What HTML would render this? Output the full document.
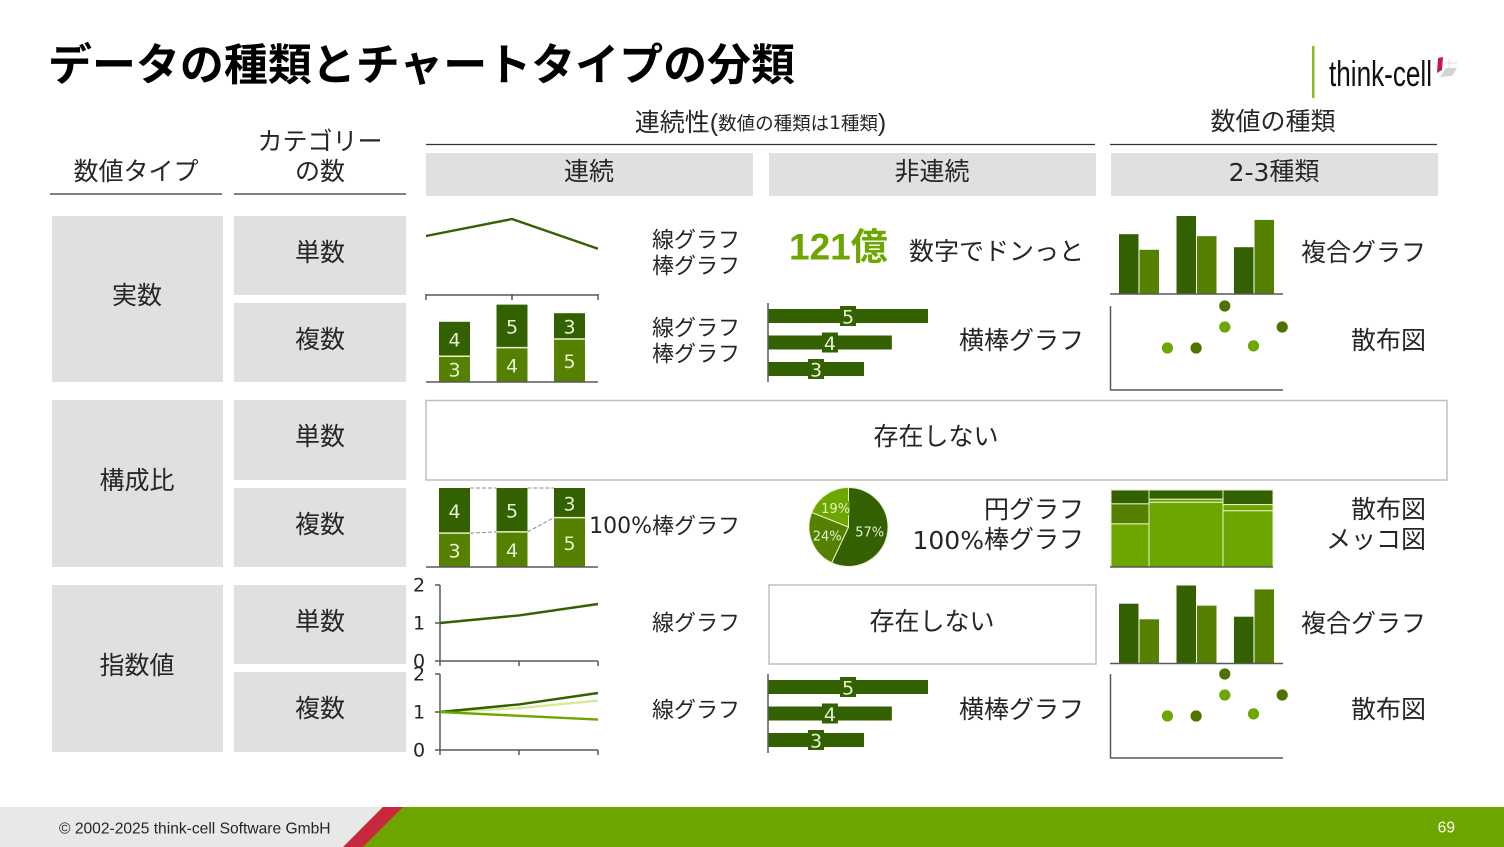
<!DOCTYPE html>
<html lang="ja">
<head>
<meta charset="utf-8">
<title>データの種類とチャートタイプの分類</title>
<style>
html,body{margin:0;padding:0;background:#fff;}
body{width:1504px;height:847px;overflow:hidden;}
svg{display:block;}
text{font-family:"Liberation Sans","Noto Sans CJK JP",sans-serif;fill:#262626;}
.lbl{font-size:25px;dominant-baseline:central;transform:translateY(1px);}
.small{font-size:22px;}
.mid{text-anchor:middle;}
.end{text-anchor:end;}
.lat{font-family:"DejaVu Sans",sans-serif;}
.val{font-family:"DejaVu Sans",sans-serif;fill:#e6f2d0;text-anchor:middle;dominant-baseline:central;transform:translateY(1.5px);}
.tick{font-family:"DejaVu Sans",sans-serif;font-size:19px;fill:#262626;text-anchor:middle;dominant-baseline:central;transform:translateY(1px);}
</style>
</head>
<body>
<svg id="slide" xmlns="http://www.w3.org/2000/svg" width="1504" height="847" viewBox="0 0 1504 847">
  <rect x="0" y="0" width="1504" height="847" fill="#fff"/>
  <text x="48" y="80" font-size="44" font-weight="700" style="fill:#000" textLength="747" lengthAdjust="spacingAndGlyphs">データの種類とチャートタイプの分類</text>

  <g>
    <rect x="1312" y="46" width="2.5" height="52" fill="#8cb820"/>
    <text x="1329" y="86" font-size="36" style="fill:#111" textLength="103" lengthAdjust="spacingAndGlyphs">think-cell</text>
    <polygon points="1438,58 1443,57 1442,70 1437,73" fill="#c2184f"/>
    <polygon points="1446,68 1457,68 1452,76 1440,77" fill="#d4d4d4"/>
    <path d="M1449 59V68M1445 63H1457" stroke="#dcdcdc" stroke-width="1" fill="none"/>
  </g>

  <g>
    <text class="lbl mid" x="136" y="171">数値タイプ</text>
    <line x1="50" y1="194" x2="222" y2="194" stroke="#333" stroke-width="1.2"/>
    <text class="lbl mid" x="320" y="141">カテゴリー</text>
    <text class="lbl mid" x="320" y="171">の数</text>
    <line x1="234" y1="194" x2="406" y2="194" stroke="#333" stroke-width="1.2"/>
    <text class="lbl mid" x="760.500" y="122">連続性(<tspan font-size="18.500">数値の種類は<tspan class="lat">1</tspan>種類</tspan>)</text>
    <line x1="426" y1="144.500" x2="1095" y2="144.500" stroke="#333" stroke-width="1.2"/>
    <text class="lbl mid" x="1273" y="121">数値の種類</text>
    <line x1="1110" y1="144.500" x2="1437" y2="144.500" stroke="#333" stroke-width="1.2"/>

    <rect x="426" y="153" width="327" height="43" fill="#e0e0e0"/>
    <text class="lbl mid" x="589" y="171">連続</text>
    <rect x="769" y="153" width="327" height="43" fill="#e0e0e0"/>
    <text class="lbl mid" x="932" y="171">非連続</text>
    <rect x="1111" y="153" width="327" height="43" fill="#e0e0e0"/>
    <text class="lbl mid" x="1274" y="171"><tspan class="lat">2-3</tspan>種類</text>
  </g>

  <g>
    <rect x="52" y="216" width="171" height="166" fill="#e0e0e0"/>
    <text class="lbl mid" x="137" y="295">実数</text>
    <rect x="234" y="216" width="172" height="79" fill="#e0e0e0"/>
    <text class="lbl mid" x="320" y="252">単数</text>
    <rect x="234" y="303" width="172" height="79" fill="#e0e0e0"/>
    <text class="lbl mid" x="320" y="339">複数</text>

    <rect x="52" y="400" width="171" height="167" fill="#e0e0e0"/>
    <text class="lbl mid" x="137" y="480">構成比</text>
    <rect x="234" y="400" width="172" height="80" fill="#e0e0e0"/>
    <text class="lbl mid" x="320" y="436">単数</text>
    <rect x="234" y="488" width="172" height="79" fill="#e0e0e0"/>
    <text class="lbl mid" x="320" y="524">複数</text>

    <rect x="52" y="585" width="171" height="167" fill="#e0e0e0"/>
    <text class="lbl mid" x="137" y="665">指数値</text>
    <rect x="234" y="585" width="172" height="79" fill="#e0e0e0"/>
    <text class="lbl mid" x="320" y="621">単数</text>
    <rect x="234" y="672" width="172" height="80" fill="#e0e0e0"/>
    <text class="lbl mid" x="320" y="708">複数</text>
  </g>

  <g>
    <text class="lbl small end" x="740" y="239">線グラフ</text>
    <text class="lbl small end" x="740" y="265">棒グラフ</text>
    <text class="lbl small end" x="740" y="327">線グラフ</text>
    <text class="lbl small end" x="740" y="353">棒グラフ</text>
    <text x="789" y="247" font-size="37" font-weight="700" style="fill:#6ea600;dominant-baseline:central">121億</text>
    <text class="lbl end" x="1084" y="251">数字でドンっと</text>
    <text class="lbl end" x="1084" y="340">横棒グラフ</text>
    <text class="lbl end" x="1426" y="252">複合グラフ</text>
    <text class="lbl end" x="1426" y="340">散布図</text>

    <rect x="426" y="400.500" width="1021" height="79.500" fill="#fff" stroke="#bfbfbf" stroke-width="1.5"/>
    <text class="lbl mid" x="936" y="436">存在しない</text>

    <text class="lbl small end" x="740" y="525"><tspan class="lat">100%</tspan>棒グラフ</text>
    <text class="lbl end" x="1084" y="509">円グラフ</text>
    <text class="lbl end" x="1084" y="539"><tspan class="lat">100%</tspan>棒グラフ</text>
    <text class="lbl end" x="1426" y="509">散布図</text>
    <text class="lbl end" x="1426" y="539">メッコ図</text>

    <text class="lbl small end" x="740" y="622">線グラフ</text>
    <rect x="769" y="585" width="327" height="79" fill="#fff" stroke="#bfbfbf" stroke-width="1.5"/>
    <text class="lbl mid" x="932" y="621">存在しない</text>
    <text class="lbl end" x="1426" y="623">複合グラフ</text>
    <text class="lbl small end" x="740" y="709">線グラフ</text>
    <text class="lbl end" x="1084" y="709">横棒グラフ</text>
    <text class="lbl end" x="1426" y="709">散布図</text>
  </g>

  <g id="charts"></g>

  <g>
    <rect x="0" y="807" width="400" height="40" fill="#e8e8e8"/>
    <rect x="360" y="807" width="1144" height="40" fill="#6ea600"/>
    <polygon points="340,807 383,807 343,847 340,847" fill="#e8e8e8"/>
    <polygon points="383,807 403,807 363,847 343,847" fill="#c8283c"/>
    <text x="59" y="833.500" font-size="15.600" style="fill:#262626">© 2002-2025 think-cell Software GmbH</text>
    <text x="1455" y="832.500" font-size="15.600" text-anchor="end" style="fill:#fff">69</text>
  </g>
</svg>
<script>
/* Single line chart (actual / single) */
var singleLineValues = [3, 4, 2.25];

/* Stacked bars (actual / multiple, composition / multiple) */
var stackLower = [3, 4, 5];
var stackUpper = [4, 5, 3];

/* Horizontal bars */
var hbarValues = [5, 3.87, 3];
var hbarLabels = ['5', '4', '3'];

/* Clustered column chart */
var comboSeriesA = [4.6, 6, 3.6];
var comboSeriesB = [3.4, 4.45, 5.7];

/* Scatter chart */
var scatterDarkX = [4, 3, 6];
var scatterDarkY = [4, 2, 3];
var scatterLightX = [2, 4, 5];
var scatterLightY = [2, 3, 2.1];

/* Pie chart */
var pieValues = [57, 24, 19];
var pieLabels = ['57%', '24%', '19%'];

/* Mekko chart */
var mekkoWidths = [38, 74, 50];
var mekkoTop = [18, 12, 19];
var mekkoMid = [26, 4, 8];
var mekkoBottom = [56, 84, 73];

/* Index line charts */
var indexTicks = ['0', '1', '2'];
var indexSingle = [1, 1.2, 1.5];
var indexDark = [1, 1.2, 1.5];
var indexPale = [1, 1.1, 1.3];
var indexMid = [1, 0.9, 0.8];

var DARK = '#336000', MID = '#558000', LIGHT = '#6ea600', PALE = '#d6eb98', GAP = '#e6f2d0', AXIS = '#595959';
var NS = 'http://www.w3.org/2000/svg';
var root = document.getElementById('charts');

function mk(parent, tag, attrs, txt) {
  var el = document.createElementNS(NS, tag);
  for (var k in attrs) el.setAttribute(k, attrs[k]);
  if (txt !== undefined) el.textContent = txt;
  parent.appendChild(el);
  return el;
}
function group(name) {
  var g = mk(root, 'g', {});
  
  
  return g;
}
function axisLine(g, x1, y1, x2, y2) {
  var el = mk(g, 'line', {x1: x1, y1: y1, x2: x2, y2: y2, stroke: AXIS, 'stroke-width': 1.5});
  
  
}
function seriesLine(g, xs, ys, color, name) {
  var pts = xs.map(function (x, i) { return x + ',' + ys[i]; }).join(' ');
  var el = mk(g, 'polyline', {points: pts, fill: 'none', stroke: color, 'stroke-width': 2.4, 'stroke-linejoin': 'round'});
  
  
}

/* ---- single line ---- */
(function () {
  var g = group('single-line-chart');
  var xs = singleLineValues.map(function (v, i) { return 426 + 86 * i; });
  var ys = singleLineValues.map(function (v) { return 287 - 17 * v; });
  seriesLine(g, xs, ys, DARK, 'single-line-series');
})();

/* ---- stacked bars ---- */
var bandX = function (i) { return 439 + 57.5 * i; };
function drawStack(name, baseY, heightOf) {
  var g = group(name);
  stackLower.forEach(function (low, i) {
    var up = stackUpper[i];
    var h = heightOf(low, up);
    var x = bandX(i), yMid = baseY - h.low, yTop = yMid - h.up;
    var r1 = mk(g, 'rect', {x: x, y: yMid, width: 31, height: h.low, fill: MID});
    
    
    var r2 = mk(g, 'rect', {x: x, y: yTop, width: 31, height: h.up, fill: DARK});
    
    
    var sep = mk(g, 'line', {x1: x, x2: x + 31, y1: yMid, y2: yMid, stroke: GAP, 'stroke-width': 1.5});
    
    
    var t1 = mk(g, 'text', {x: x + 15.5, y: yMid + h.low / 2, 'class': 'val', 'font-size': 19}, String(low));
    
    
    var t2 = mk(g, 'text', {x: x + 15.5, y: yTop + h.up / 2, 'class': 'val', 'font-size': 19}, String(up));
    
    
  });
  return g;
}
(function () {
  var unit = 8.6;
  var g = drawStack('stacked-bar-chart', 382, function (l, u) { return {low: l * unit, up: u * unit}; });
  axisLine(g, 426, 382, 598, 382);
  axisLine(g, 426, 295, 598, 295);
  [426, 512, 598].forEach(function (x) { axisLine(g, x, 294, x, 300); });
})();
(function () {
  var total = 79, base = 567;
  var g = drawStack('percent-bar-chart', base, function (l, u) { return {low: total * l / (l + u), up: total * u / (l + u)}; });
  axisLine(g, 426, base, 598, base);
  for (var i = 0; i < stackLower.length - 1; i++) {
    var m1 = base - total * stackLower[i] / (stackLower[i] + stackUpper[i]);
    var m2 = base - total * stackLower[i + 1] / (stackLower[i + 1] + stackUpper[i + 1]);
    var c1 = mk(g, 'line', {x1: bandX(i) + 31, y1: m1, x2: bandX(i + 1), y2: m2, stroke: '#8c8c8c', 'stroke-width': 1, 'stroke-dasharray': '4 2'});
    
    
    var c2 = mk(g, 'line', {x1: bandX(i) + 31, y1: base - total, x2: bandX(i + 1), y2: base - total, stroke: '#8c8c8c', 'stroke-width': 1, 'stroke-dasharray': '4 2'});
    
    
  }
})();

/* ---- horizontal bars ---- */
function drawHbars(name, topY) {
  var g = group(name);
  var unit = 32, x0 = 768;
  hbarValues.forEach(function (v, i) {
    var y = topY + 6 + 26.500 * i;
    var w = v * unit;
    var r = mk(g, 'rect', {x: x0, y: y, width: w, height: 14, fill: DARK});
    
    
    var b = mk(g, 'rect', {x: x0 + w / 2 - 8, y: y - 3, width: 16, height: 20, fill: DARK});
    
    
    var t = mk(g, 'text', {x: x0 + w / 2, y: y + 7, 'class': 'val', 'font-size': 19}, hbarLabels[i]);
    
    
  });
  axisLine(g, x0, topY, x0, topY + 79);
}
drawHbars('horizontal-bar-chart-top', 303);
drawHbars('horizontal-bar-chart-bottom', 674);

/* ---- clustered columns ---- */
function drawCombo(name, baseY) {
  var g = group(name);
  var unit = 13;
  comboSeriesA.forEach(function (v, i) {
    var x = 1119 + 57.5 * i;
    var ha = v * unit, hb = comboSeriesB[i] * unit;
    var a = mk(g, 'rect', {x: x, y: baseY - ha, width: 19.5, height: ha, fill: DARK});
    
    
    var b = mk(g, 'rect', {x: x + 20.5, y: baseY - hb, width: 19.5, height: hb, fill: MID});
    
    
  });
  axisLine(g, 1110, baseY, 1283, baseY);
}
drawCombo('combo-chart-top', 294);
drawCombo('combo-chart-bottom', 663.500);

/* ---- scatter ---- */
function drawScatter(name, baseY, topY) {
  var g = group(name);
  var sx = function (v) { return 1110 + 28.7 * v; };
  var sy = function (v) { return baseY - 21 * v; };
  axisLine(g, 1110.500, topY, 1110.500, baseY);
  axisLine(g, 1110, baseY, 1283, baseY);
  scatterDarkX.forEach(function (v, i) {
    var c = mk(g, 'circle', {cx: sx(v), cy: sy(scatterDarkY[i]), r: 5.6, fill: '#4d7300'});
    
    
  });
  scatterLightX.forEach(function (v, i) {
    var c = mk(g, 'circle', {cx: sx(v), cy: sy(scatterLightY[i]), r: 5.6, fill: LIGHT});
    
    
  });
}
drawScatter('scatter-chart-top', 390, 306);
drawScatter('scatter-chart-bottom', 758, 674);

/* ---- pie ---- */
(function () {
  var g = group('pie-chart');
  var cx = 848.5, cy = 527, R = 39.5;
  var colors = [DARK, MID, LIGHT];
  var total = pieValues.reduce(function (a, b) { return a + b; }, 0);
  var ang = 0;
  pieValues.forEach(function (v, i) {
    var a0 = ang, a1 = ang + v / total * Math.PI * 2;
    ang = a1;
    var x0 = cx + R * Math.sin(a0), y0 = cy - R * Math.cos(a0);
    var x1 = cx + R * Math.sin(a1), y1 = cy - R * Math.cos(a1);
    var large = a1 - a0 > Math.PI ? 1 : 0;
    var p = mk(g, 'path', {d: 'M' + cx + ' ' + cy + 'L' + x0 + ' ' + y0 + 'A' + R + ' ' + R + ' 0 ' + large + ' 1 ' + x1 + ' ' + y1 + 'Z', fill: colors[i], stroke: GAP, 'stroke-width': 1});
    
    
  });
  ang = 0;
  pieValues.forEach(function (v, i) {
    var frac = v / total * Math.PI * 2;
    var mid = ang + frac / 2;
    ang += frac;
    var d = [0.55, 0.58, 0.58][i] * R;
    var lx = cx + d * Math.sin(mid), ly = cy - d * Math.cos(mid);
    var b = mk(g, 'rect', {x: lx - 14, y: ly - 7, width: 28, height: 14, fill: colors[i]});
    
    
    var t = mk(g, 'text', {x: lx, y: ly, 'class': 'val', 'font-size': 13}, pieLabels[i]);
    
    
  });
})();

/* ---- mekko ---- */
(function () {
  var g = group('mekko-chart');
  var x = 1111, top = 490, H = 77;
  mekkoWidths.forEach(function (w, i) {
    var rows = [[mekkoTop[i], DARK], [mekkoMid[i], i === 0 ? MID : LIGHT], [mekkoBottom[i], LIGHT]];
    var y = top;
    rows.forEach(function (row) {
      var h = row[0] / 100 * H;
      var r = mk(g, 'rect', {x: x, y: y, width: w, height: h, fill: row[1], stroke: GAP, 'stroke-width': 1});
      
      
      y += h;
    });
    x += w;
  });
  axisLine(g, 1110, top + H, 1273, top + H);
})();

/* ---- index lines ---- */
function drawIndexChart(name, topY, unit, series) {
  var g = group(name);
  var baseY = topY + unit * 2;
  var sx = function (i) { return 440 + 79 * i; };
  var sy = function (v) { return baseY - unit * v; };
  axisLine(g, 440, topY, 440, baseY);
  axisLine(g, 440, baseY, 598, baseY);
  indexTicks.forEach(function (label) {
    var v = Number(label);
    axisLine(g, 435, sy(v), 440, sy(v));
    var t = mk(g, 'text', {x: 419, y: sy(v) - 0.5, 'class': 'tick'}, label);
    
    
  });
  [0, 1, 2].forEach(function (i) { axisLine(g, sx(i), baseY, sx(i), baseY + 5); });
  series.forEach(function (s) {
    seriesLine(g, s.values.map(function (v, i) { return sx(i); }), s.values.map(sy), s.color, s.name);
  });
}
drawIndexChart('index-line-chart-single', 585, 38, [{values: indexSingle, color: DARK, name: 'index-series-dark'}]);
drawIndexChart('index-line-chart-multiple', 674, 38, [
  {values: indexPale, color: PALE, name: 'index-series-pale'},
  {values: indexDark, color: DARK, name: 'index-series-dark'},
  {values: indexMid, color: LIGHT, name: 'index-series-mid'}
]);
</script>
</body>
</html>
